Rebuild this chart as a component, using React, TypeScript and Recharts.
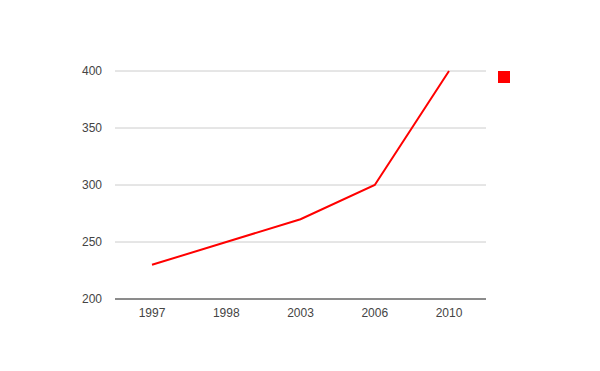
import { LineChart, Line, XAxis, YAxis, CartesianGrid } from "recharts"

const years = ["1997", "1998", "2003", "2006", "2010"]
const values = [230, 250, 270, 300, 400]
const yTicks = [200, 250, 300, 350, 400]

const data = years.map((year, i) => ({ year, value: values[i] }))

const tickStyle = { fill: "#444444", fontSize: 12, fontFamily: "Arial, 'Liberation Sans', sans-serif" }

export default function App() {
  return (
    <div style={{ position: "absolute", left: 0, top: 0, width: 600, height: 371, background: "#fff" }}>
      <LineChart width={600} height={371} data={data} margin={{ top: 71, right: 114, bottom: 0, left: 0 }}>
        <CartesianGrid horizontal vertical={false} stroke="#cccccc" />
        <XAxis
          dataKey="year"
          height={72}
          padding={{ left: 37, right: 37 }}
          axisLine={{ stroke: "#333333" }}
          tickLine={false}
          tickSize={0}
          tickMargin={9}
          tick={tickStyle}
        />
        <YAxis
          width={115}
          domain={[200, 400]}
          ticks={yTicks}
          axisLine={false}
          tickLine={false}
          tickSize={0}
          tickMargin={13}
          tick={tickStyle}
        />
        <Line
          type="linear"
          dataKey="value"
          stroke="#ff0000"
          strokeWidth={2}
          dot={false}
          activeDot={false}
          isAnimationActive={false}
        />
      </LineChart>
      {/* legend: just a swatch, no label */}
      <div style={{ position: "absolute", left: 498, top: 71, width: 12, height: 12, background: "#ff0000" }} />
    </div>
  )
}
